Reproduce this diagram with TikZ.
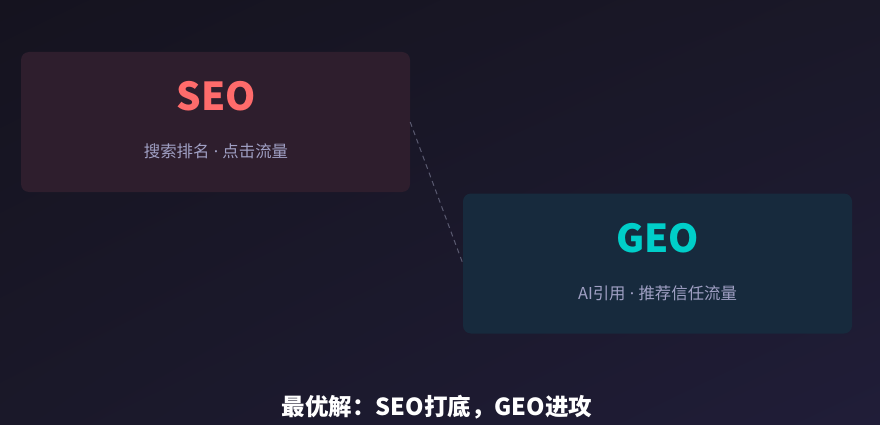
\documentclass[tikz,border=0pt]{standalone}
\usepackage{fontspec}
\newfontfamily\cjk{Noto Sans CJK SC}
\newfontfamily\latin{Noto Sans}
\usetikzlibrary{positioning,shadings}
\definecolor{bgTL}{HTML}{15131F}
\definecolor{bgBR}{HTML}{201D38}
\definecolor{bgTR}{HTML}{1A1828}
\definecolor{bgBL}{HTML}{1A1829}
\definecolor{seoFill}{HTML}{2E1E2D}
\definecolor{geoFill}{HTML}{172A3D}
\definecolor{seoRed}{HTML}{FF6B6B}
\definecolor{geoTeal}{HTML}{00CEC9}
\definecolor{subGrey}{HTML}{A0A0C4}
\definecolor{dashGrey}{HTML}{5A5A70}
\newcommand{\sepdot}{{\latin\ ·\ }}
\tikzset{
  card/.style={rounded corners=8pt, minimum width=389pt, minimum height=140pt, inner sep=0pt},
  titletext/.style={font=\cjk\bfseries\fontsize{38.5}{42}\selectfont, inner sep=0pt},
  subtext/.style={font=\cjk\fontsize{16.4}{19}\selectfont, text=subGrey, inner sep=0pt},
  linker/.style={draw=dashGrey, dash pattern=on 5pt off 4pt, line width=1pt},
}
\begin{document}
\begin{tikzpicture}[x=1pt,y=-1pt]
\useasboundingbox (0,0) rectangle (880,425);
\shade[upper left=bgTL, upper right=bgTR, lower left=bgBL, lower right=bgBR] (0,0) rectangle (880,425);
\node[card, fill=seoFill] (seo) at (215.5,122) {};
\node[card, fill=geoFill] (geo) at (657.5,263.5) {};
\node[titletext, text=seoRed] (seot) at (216,96) {SEO};
\node[subtext] (seos) at (216,151) {搜索排名\sepdot 点击流量};
\node[titletext, text=geoTeal] (geot) at (657.5,238) {GEO};
\node[subtext] (geos) at (657.5,293) {AI引用\sepdot 推荐信任流量};
\draw[linker] (seo.east) -- (geo.west);
\node[font=\cjk\bfseries\fontsize{23.5}{26}\selectfont, text=white, inner sep=0pt] (conc) at (437,407) {最优解：SEO打底，GEO进攻};
\end{tikzpicture}
\end{document}
